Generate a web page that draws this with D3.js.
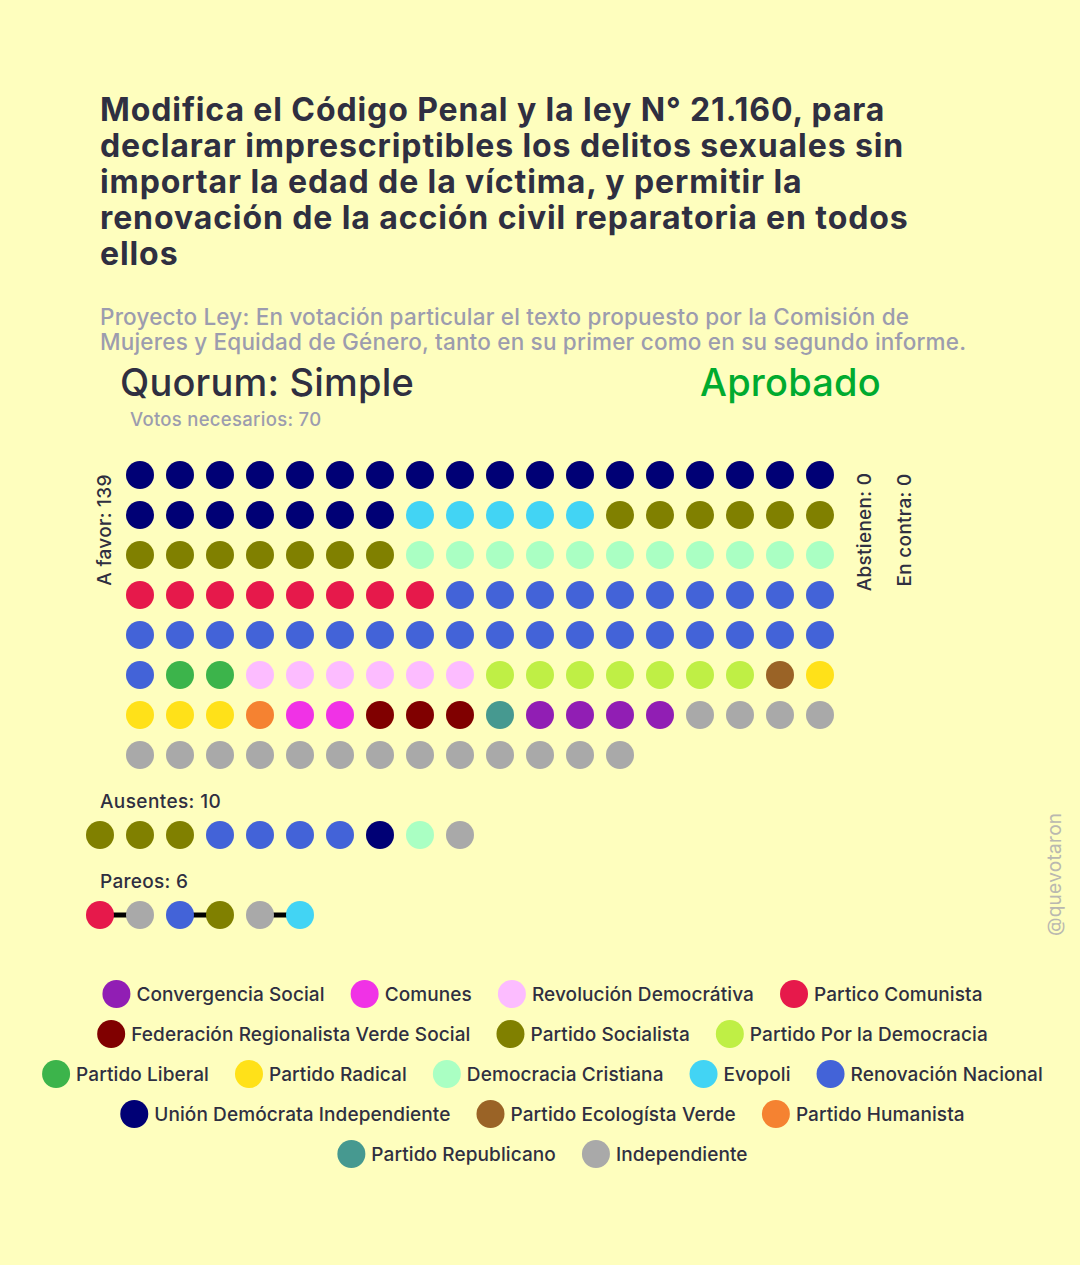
<!DOCTYPE html>
<html><head><meta charset="utf-8">
<script src="https://cdn.jsdelivr.net/npm/d3@7/dist/d3.min.js"></script>
<style>html,body{margin:0;padding:0;background:#FEFEBE}svg{display:block}text{font-family:"Inter",sans-serif}</style>
</head><body><div id="c"></div>
<script>
const titleLines=["Modifica el Código Penal y la ley N° 21.160, para","declarar imprescriptibles los delitos sexuales sin","importar la edad de la víctima, y permitir la","renovación de la acción civil reparatoria en todos","ellos"];
const subtitleLines=["Proyecto Ley: En votación particular el texto propuesto por la Comisión de","Mujeres y Equidad de Género, tanto en su primer como en su segundo informe."];
const parties=["Convergencia Social","Comunes","Revolución Democrátiva","Partico Comunista","Federación Regionalista Verde Social","Partido Socialista","Partido Por la Democracia","Partido Liberal","Partido Radical","Democracia Cristiana","Evopoli","Renovación Nacional","Unión Demócrata Independiente","Partido Ecologísta Verde","Partido Humanista","Partido Republicano","Independiente"];
const partyColors=["#911eb4","#f032e6","#fcbcff","#e6194b","#800000","#808000","#bfef45","#3cb44b","#ffe119","#aaffc3","#42d4f4","#4363d8","#000075","#9a6326","#f58231","#469990","#a9a9a9"];
const legendCounts=[4,3,5,3,2];
const favorParty=["Unión Demócrata Independiente","Evopoli","Partido Socialista","Democracia Cristiana","Partico Comunista","Renovación Nacional","Partido Liberal","Revolución Democrátiva","Partido Por la Democracia","Partido Ecologísta Verde","Partido Radical","Partido Humanista","Comunes","Federación Regionalista Verde Social","Partido Republicano","Convergencia Social","Independiente"];
const favorCount=[25,5,13,11,8,29,2,6,7,1,4,1,2,3,1,4,17];
const ausentes=["Partido Socialista","Partido Socialista","Partido Socialista","Renovación Nacional","Renovación Nacional","Renovación Nacional","Renovación Nacional","Unión Demócrata Independiente","Democracia Cristiana","Independiente"];
const pareos=["Partico Comunista","Independiente","Renovación Nacional","Partido Socialista","Independiente","Evopoli"];
const color=d3.scaleOrdinal(parties,partyColors);
const favor=favorParty.flatMap((p,i)=>d3.range(favorCount[i]).map(()=>p));
const W=1080,H=1265,PER=18;
const svg=d3.select("#c").append("svg").attr("width",W).attr("height",H);
svg.append("rect").attr("width",W).attr("height",H).attr("fill","#FEFEBE");
const dark="#2F2F41",grey="#9C9CAE";
function lines(arr,x,y,lh,size,weight,fill,ls){svg.append("g").selectAll("text").data(arr).join("text").attr("x",x).attr("y",(d,i)=>y+i*lh).attr("font-size",size).attr("font-weight",weight).attr("letter-spacing",ls).attr("fill",fill).text(d=>d);}
lines(titleLines,100,121,36,32,700,dark,0.9);
lines(subtitleLines,100,325,25,22.5,500,grey,0.2);
svg.append("text").attr("x",120).attr("y",396).attr("font-size",38).attr("font-weight",500).attr("letter-spacing",0.2).attr("fill",dark).text("Quorum: Simple");
svg.append("text").attr("x",700).attr("y",396).attr("font-size",38).attr("font-weight",500).attr("letter-spacing",0.2).attr("fill","#00AB2F").text("Aprobado");
svg.append("text").attr("x",130).attr("y",426).attr("font-size",18.5).attr("font-weight",500).attr("letter-spacing",0.3).attr("fill",grey).text("Votos necesarios: 70");
const x=d3.scaleLinear().domain([0,17]).range([140,820]);
const y=d3.scaleLinear().domain([0,7]).range([475,755]);
const R=14;
svg.append("g").selectAll("circle").data(favor).join("circle").attr("cx",(d,i)=>x(i%PER)).attr("cy",(d,i)=>y(Math.floor(i/PER))).attr("r",R).attr("fill",d=>color(d));
function vtext(t,px,py){svg.append("text").attr("transform",`translate(${px},${py}) rotate(-90)`).attr("font-size",19).attr("font-weight",500).attr("letter-spacing",0.3).attr("fill",dark).attr("text-anchor","middle").text(t);}
vtext("A favor: 139",111,530);vtext("Abstienen: 0",871,532);vtext("En contra: 0",911,530);
svg.append("text").attr("x",100).attr("y",808).attr("font-size",19).attr("font-weight",500).attr("letter-spacing",0.4).attr("fill",dark).text("Ausentes: 10");
svg.append("text").attr("x",100).attr("y",888).attr("font-size",19).attr("font-weight",500).attr("letter-spacing",0.3).attr("fill",dark).text("Pareos: 6");
const x2=d3.scaleLinear().domain([0,9]).range([100,460]);
svg.append("g").selectAll("circle").data(ausentes).join("circle").attr("cx",(d,i)=>x2(i)).attr("cy",835).attr("r",R).attr("fill",d=>color(d));
const pairs=d3.range(0,pareos.length,2);
svg.append("g").selectAll("line").data(pairs).join("line").attr("x1",d=>x2(d)).attr("x2",d=>x2(d+1)).attr("y1",915).attr("y2",915).attr("stroke","#000").attr("stroke-width",5);
svg.append("g").selectAll("circle").data(pareos).join("circle").attr("cx",(d,i)=>x2(i)).attr("cy",915).attr("r",R).attr("fill",d=>color(d));
svg.append("text").attr("transform","translate(1061,936) rotate(-90)").attr("font-size",19).attr("letter-spacing",0.3).attr("fill","#B9B8B0").text("@quevotaron");
let start=0;
legendCounts.forEach((n,r)=>{
  const row=parties.slice(start,start+n);start+=n;
  const g=svg.append("g");
  const items=row.map(p=>{const t=g.append("text").attr("font-size",19).attr("font-weight",500).attr("letter-spacing",0.1).attr("fill",dark).attr("y",1001+r*40).text(p);return {p,t,w:t.node().getComputedTextLength()};});
  const gap=26,total=d3.sum(items,d=>d.w+34)+gap*(n-1);
  let cx=1085/2-total/2;
  items.forEach(it=>{g.append("circle").attr("cx",cx+14).attr("cy",994+r*40).attr("r",R).attr("fill",color(it.p));it.t.attr("x",cx+34);cx+=34+it.w+gap;});
});
</script></body></html>
